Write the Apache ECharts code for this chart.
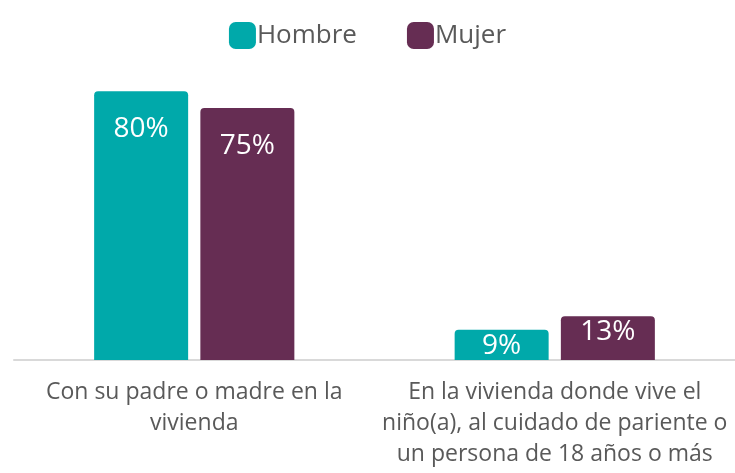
<!DOCTYPE html>
<html>
<head>
<meta charset="utf-8">
<script src="https://cdn.jsdelivr.net/npm/echarts@6/dist/echarts.min.js"></script>
<style>
  html, body { margin: 0; padding: 0; background: #fff; }
  #main { width: 735px; height: 473px; }
</style>
</head>
<body>
<div id="main"></div>
<script>
var categories = [
  'Con su padre o madre en la\nvivienda',
  'En la vivienda donde vive el\nniño(a), al cuidado de pariente o\nun persona de 18 años o más'
];
var hombre = [80, 9];
var mujer = [75, 13];

var font = 'Open Sans';
var chart = echarts.init(document.getElementById('main'));

function withLabels(arr) {
  // small bars keep their label nearer the top edge
  return arr.map(function (v) {
    return { value: v, label: { distance: v > 30 ? 24 : 2 } };
  });
}

chart.setOption({
  animation: false,
  textStyle: { fontFamily: font },
  legend: {
    top: 17,
    left: 'center',
    itemWidth: 27,
    itemHeight: 27,
    itemGap: 50,
    icon: 'roundRect',
    textStyle: { fontSize: 26, color: '#595959', padding: [0, 0, 0, -4] },
    data: ['Hombre', 'Mujer']
  },
  grid: { left: 14, width: 724, top: 24, bottom: 113 },
  xAxis: {
    type: 'category',
    data: categories,
    axisLine: { lineStyle: { color: '#d9d9d9', width: 2 } },
    axisTick: { show: false },
    axisLabel: { color: '#595959', fontSize: 23, lineHeight: 31, margin: 17, interval: 0 }
  },
  yAxis: {
    type: 'value',
    min: 0,
    max: 100,
    show: false
  },
  series: [{
    name: 'Hombre',
    type: 'bar',
    barWidth: 94,
    barGap: '13%',
    itemStyle: { color: '#00a9aa', borderRadius: [4, 4, 0, 0] },
    label: { show: true, position: 'insideTop', color: '#fff', fontSize: 28, formatter: '{c}%' },
    data: withLabels(hombre)
  }, {
    name: 'Mujer',
    type: 'bar',
    barWidth: 94,
    itemStyle: { color: '#662d53', borderRadius: [4, 4, 0, 0] },
    label: { show: true, position: 'insideTop', color: '#fff', fontSize: 28, formatter: '{c}%' },
    data: withLabels(mujer)
  }]
});
</script>
</body>
</html>
